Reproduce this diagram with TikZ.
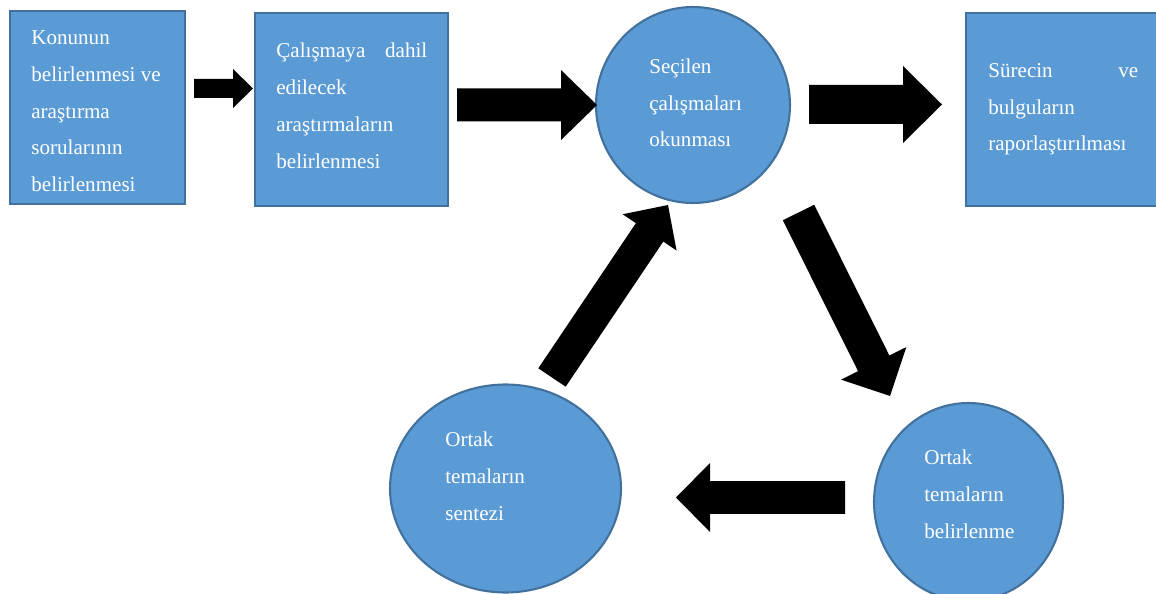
\documentclass[tikz,border=0pt]{standalone}
\usepackage{fontspec}
\setmainfont{Liberation Serif}
\usetikzlibrary{calc,shapes.geometric}
\definecolor{boxfill}{RGB}{91,155,213}
\definecolor{boxline}{RGB}{65,113,156}
\tikzset{
  boxnd/.style={rectangle, draw=boxline, fill=boxfill, line width=1.2pt, inner sep=0pt},
  ellnd/.style={ellipse, draw=boxline, fill=boxfill, line width=1.2pt, inner sep=0pt},
  txt/.style={white, font=\fontsize{12}{20.9}\selectfont, anchor=north west, inner sep=0pt, align=left},
}
% block arrow: tail, tip, half shaft, half head, head length
\newcommand{\blockarr}[5]{%
  \coordinate (hb) at ($(#2)!#5!(#1)$);
  \fill[black] ($(#1)!#3!90:(#2)$) -- ($(hb)!#3!-90:(#1)$) -- ($(hb)!#4!-90:(#1)$) -- (#2)
    -- ($(hb)!#4!90:(#1)$) -- ($(hb)!#3!90:(#1)$) -- ($(#1)!#3!-90:(#2)$) -- cycle;
}

\begin{document}
\begin{tikzpicture}[x=0.02cm, y=-0.02cm]
  \useasboundingbox (0,0) rectangle (1156,594);
  % boxes
  \node[boxnd, minimum width=3.5cm, minimum height=3.86cm] (konu) at (97.5,107.5) {};
  \node[txt] (konut) at (31,30.5) {Konunun\\belirlenmesi ve\\araştırma\\sorularının\\belirlenmesi};
  \node[boxnd, minimum width=3.86cm, minimum height=3.86cm] (secim) at (351.5,109.5) {};
  \node[txt, text width=3.02cm] (secimt) at (276,43) {Çalışmaya \hfill dahil\\edilecek\\araştırmaların\\belirlenmesi};
  \node[boxnd, minimum width=3.86cm, minimum height=3.86cm] (rapor) at (1062.5,109.5) {};
  \node[txt, text width=3.0cm] (raport) at (988,63) {Sürecin \hfill ve\\bulguların\\raporlaştırılması};
  % circles
  \node[ellnd, minimum width=3.88cm, minimum height=3.92cm] (okuma) at (693,105) {};
  \node[txt] (okumat) at (649,58.5) {Seçilen\\çalışmaları\\okunması};
  \node[ellnd, minimum width=4.62cm, minimum height=4.16cm] (sentez) at (505.5,488.5) {};
  \node[txt] (sentezt) at (445,432) {Ortak\\temaların\\sentezi};
  \node[ellnd, minimum width=3.78cm, minimum height=3.96cm] (tema) at (968.5,502) {};
  \node[txt] (temat) at (924,450) {Ortak\\temaların\\belirlenme};
  % arrow ends
  \coordinate (a1s) at (194,88.5);   \coordinate (a1e) at (253,88.5);
  \coordinate (a2s) at (457,105);    \coordinate (a2e) at (597,105);
  \coordinate (a3s) at (809,104.5);  \coordinate (a3e) at (942,104.5);
  \coordinate (a4s) at (798.5,212.5); \coordinate (a4e) at (890,396);
  \coordinate (a5s) at (845,497.5);  \coordinate (a5e) at (676,497.5);
  \coordinate (a6s) at (552,377.5);  \coordinate (a6e) at (668,205);
  % arrows
  \blockarr{a1s}{a1e}{0.19cm}{0.39cm}{0.4cm}
  \blockarr{a2s}{a2e}{0.33cm}{0.70cm}{0.72cm}
  \blockarr{a3s}{a3e}{0.39cm}{0.77cm}{0.78cm}
  \blockarr{a4s}{a4e}{0.35cm}{0.73cm}{0.73cm}
  \blockarr{a5s}{a5e}{0.33cm}{0.69cm}{0.68cm}
  \blockarr{a6s}{a6e}{0.33cm}{0.65cm}{0.66cm}
\end{tikzpicture}
\end{document}
